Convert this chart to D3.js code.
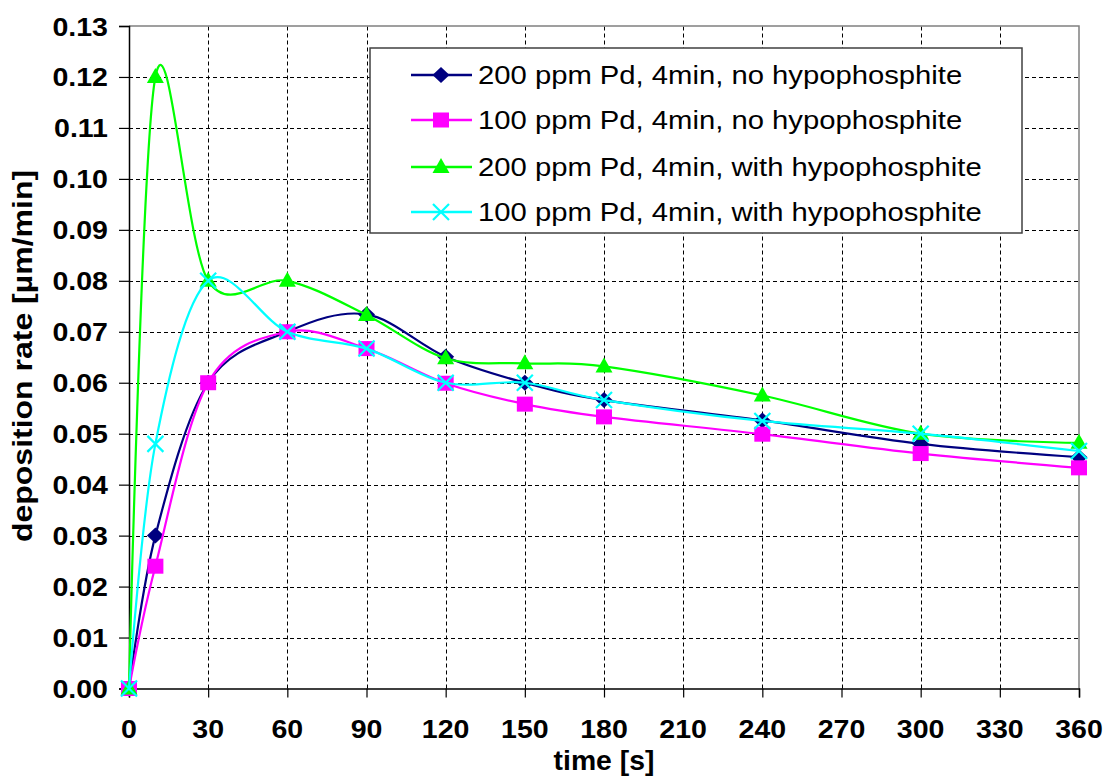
<!DOCTYPE html>
<html>
<head>
<meta charset="utf-8">
<script src="https://cdn.jsdelivr.net/npm/d3@7"></script>
<style>
  html, body { margin: 0; padding: 0; background: #fff; }
  svg { display: block; }
  text { font-family: Arial, "Liberation Sans", sans-serif; fill: #000; }
</style>
</head>
<body>
<svg id="chart" width="1104" height="777"></svg>
<script>
// ---- data ----
const times = [0, 10, 30, 60, 90, 120, 150, 180, 240, 300, 360];
const pd200NoHypo   = [0, 0.030, 0.060, 0.070, 0.0734, 0.0651, 0.0600, 0.0566, 0.0526, 0.0480, 0.0454];
const pd100NoHypo   = [0, 0.024, 0.060, 0.070, 0.0667, 0.0599, 0.0558, 0.0533, 0.0499, 0.0461, 0.0433];
const pd200WithHypo = [0, 0.120, 0.080, 0.080, 0.0733, 0.0648, 0.0638, 0.0632, 0.0575, 0.0500, 0.0482];
const pd100WithHypo = [0, 0.048, 0.080, 0.070, 0.0667, 0.0600, 0.0600, 0.0566, 0.0525, 0.0500, 0.0466];
const seriesNames = [
  "200 ppm Pd, 4min, no hypophosphite",
  "100 ppm Pd, 4min, no hypophosphite",
  "200 ppm Pd, 4min, with hypophosphite",
  "100 ppm Pd, 4min, with hypophosphite"
];
const xTicks = [0, 30, 60, 90, 120, 150, 180, 210, 240, 270, 300, 330, 360];
const yTicks = [0, 0.01, 0.02, 0.03, 0.04, 0.05, 0.06, 0.07, 0.08, 0.09, 0.10, 0.11, 0.12, 0.13];
const xTitle = "time [s]";
const yTitle = "deposition rate [µm/min]";

// ---- styles ----
const colors = ["#000080", "#ff00ff", "#00ff00", "#00ffff"];
const markers = ["diamond", "square", "triangle", "cross"];
const SX = 1.12; // horizontal text stretch of the original picture

const svg = d3.select("#chart");
const x = d3.scaleLinear().domain([0, 360]).range([129, 1079]);
const y = d3.scaleLinear().domain([0, 0.13]).range([688.5, 26]);

// grid
const grid = svg.append("g");
grid.selectAll("line.hg").data(yTicks.slice(1, -1)).join("line")
  .attr("x1", x(0)).attr("x2", x(360))
  .attr("y1", d => Math.round(y(d)) + 0.5).attr("y2", d => Math.round(y(d)) + 0.5)
  .attr("stroke", "#000").attr("stroke-width", 1).attr("stroke-dasharray", "4,3");
grid.selectAll("line.vg").data(xTicks.slice(1, -1)).join("line")
  .attr("y1", y(0)).attr("y2", y(0.13))
  .attr("x1", d => Math.round(x(d)) + 0.5).attr("x2", d => Math.round(x(d)) + 0.5)
  .attr("stroke", "#000").attr("stroke-width", 1).attr("stroke-dasharray", "4,3");

// frame top/right (gray)
svg.append("path")
  .attr("d", `M${x(0)},${y(0.13)}H${x(360)}V${y(0)}`)
  .attr("fill", "none").attr("stroke", "#808080").attr("stroke-width", 1.5);

// axes
const xAxis = d3.axisBottom(x).tickValues(xTicks).tickSize(9).tickFormat("");
const yAxis = d3.axisLeft(y).tickValues(yTicks).tickSize(10).tickFormat("");
const gx = svg.append("g").attr("transform", `translate(0,${y(0)})`).call(xAxis);
const gy = svg.append("g").attr("transform", `translate(${x(0)},0)`).call(yAxis);
[gx, gy].forEach(g => {
  g.select(".domain").attr("stroke", "#000").attr("stroke-width", 1.5);
  g.selectAll(".tick line").attr("stroke", "#000").attr("stroke-width", 1.2);
});

function stretchedText(parent, tx, ty, str, opts) {
  const t = parent.append("text")
    .attr("transform", `translate(${tx},${ty}) scale(${opts.sx || SX},1)`)
    .attr("text-anchor", opts.anchor || "start")
    .attr("font-size", opts.size)
    .attr("font-weight", opts.weight || "normal")
    .text(str);
  return t;
}

// tick labels
const fmtY = d3.format(".2f");
yTicks.forEach(v => stretchedText(svg, 108, y(v) + 9.5, fmtY(v), {anchor: "end", size: 25.5, weight: "bold"}));
xTicks.forEach(v => stretchedText(svg, x(v), 738, String(v), {anchor: "middle", size: 25.5, weight: "bold"}));

// axis titles
stretchedText(svg, 604, 770, xTitle, {anchor: "middle", size: 27, weight: "bold", sx: 1.05});
svg.append("text")
  .attr("transform", `translate(32,356) rotate(-90) scale(1.28,1.1)`)
  .attr("text-anchor", "middle")
  .attr("font-size", 25).attr("font-weight", "bold")
  .text(yTitle);

// marker drawing
function drawMarker(g, type, color, cx, cy) {
  if (type === "diamond") {
    g.append("path").attr("d", `M${cx},${cy - 8}L${cx + 8.5},${cy}L${cx},${cy + 8}L${cx - 8.5},${cy}Z`).attr("fill", color);
  } else if (type === "square") {
    g.append("rect").attr("x", cx - 8).attr("y", cy - 7.5).attr("width", 16).attr("height", 15).attr("fill", color);
  } else if (type === "triangle") {
    g.append("path").attr("d", `M${cx},${cy - 9}L${cx + 8.5},${cy + 6}L${cx - 8.5},${cy + 6}Z`).attr("fill", color);
  } else if (type === "cross") {
    g.append("path").attr("d", `M${cx - 8},${cy - 8}L${cx + 8},${cy + 8}M${cx + 8},${cy - 8}L${cx - 8},${cy + 8}`)
      .attr("stroke", color).attr("stroke-width", 2.2).attr("fill", "none");
  }
}

// series
const allSeries = [pd200NoHypo, pd100NoHypo, pd200WithHypo, pd100WithHypo];
const line = d3.line().x(d => x(d[0])).y(d => y(d[1])).curve(d3.curveCardinal.tension(0));
allSeries.forEach((vals, i) => {
  const pts = times.map((t, j) => [t, vals[j]]);
  const g = svg.append("g");
  g.append("path").attr("d", line(pts)).attr("fill", "none")
    .attr("stroke", colors[i]).attr("stroke-width", 2.2);
  pts.forEach(p => drawMarker(g, markers[i], colors[i], x(p[0]), y(p[1])));
});

// legend
const lg = svg.append("g");
lg.append("rect").attr("x", 370).attr("y", 48).attr("width", 652).attr("height", 185)
  .attr("fill", "#fff").attr("stroke", "#404040").attr("stroke-width", 1.5);
const rowY = [75, 120, 167, 212];
seriesNames.forEach((name, i) => {
  const yy = rowY[i];
  lg.append("line").attr("x1", 411).attr("x2", 472).attr("y1", yy).attr("y2", yy)
    .attr("stroke", colors[i]).attr("stroke-width", 2.5);
  drawMarker(lg, markers[i], colors[i], 441, yy);
  stretchedText(lg, 478, yy + 9, name, {size: 25, sx: 1.17});
});
</script>
</body>
</html>
